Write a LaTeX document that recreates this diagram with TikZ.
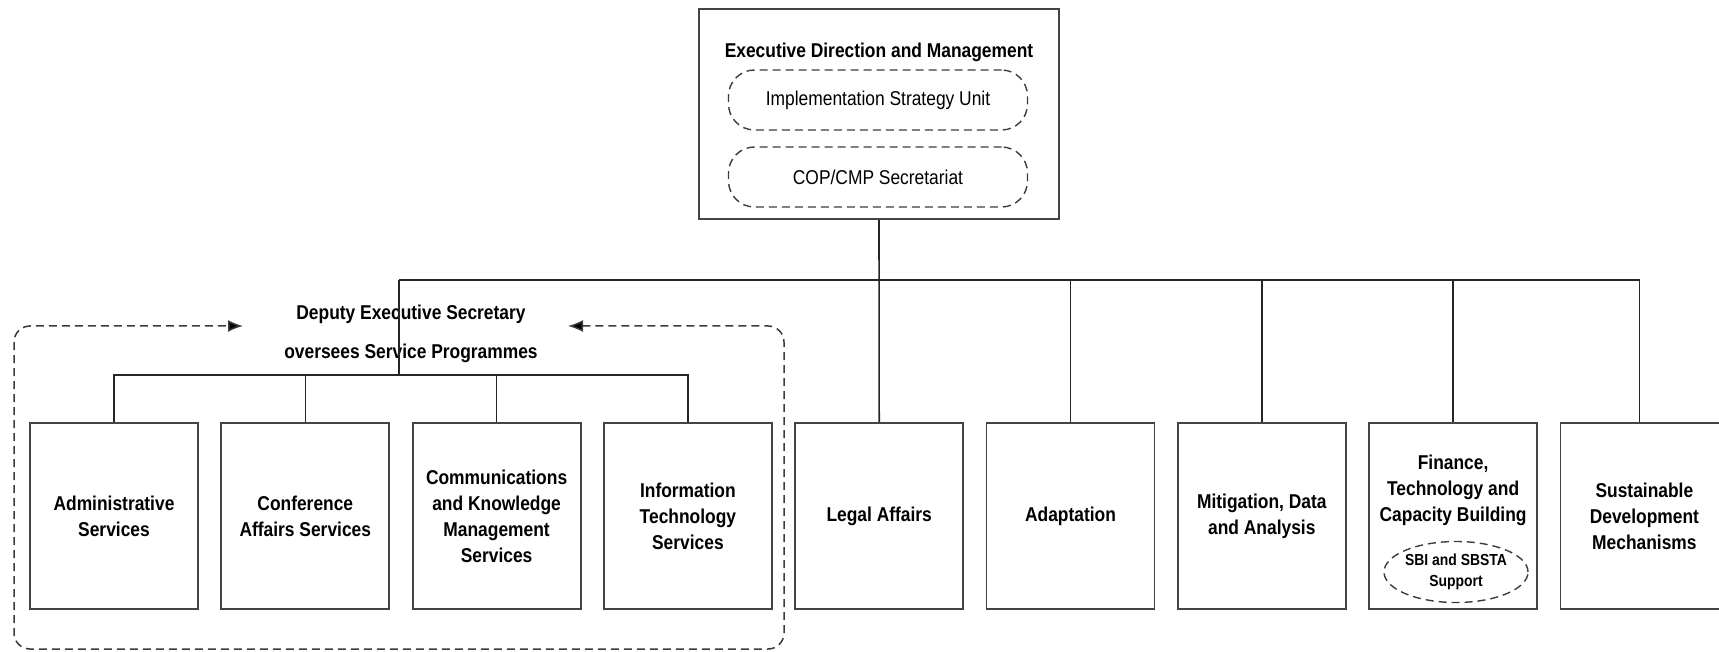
\documentclass[tikz,border=0pt]{standalone}
\usepackage{fontspec}
\setmainfont{Liberation Sans}[FakeStretch=0.87]
\usetikzlibrary{shapes.geometric,arrows.meta}
\definecolor{boxgray}{HTML}{444444}
\definecolor{dashgray}{HTML}{3C3C3C}
\begin{document}
\begin{tikzpicture}[x=1pt,y=-1pt,
  unitbox/.style={draw=boxgray, line width=1.8pt, minimum width=168pt, minimum height=186pt, inner sep=0pt, align=center, font=\fontsize{20}{26}\selectfont\bfseries},
  topbox/.style={draw=boxgray, line width=1.8pt, minimum width=360pt, minimum height=210pt, inner sep=0pt},
  pill/.style={draw=dashgray, dash pattern=on 8pt off 5pt, line width=1.4pt, rounded corners=26pt, minimum width=299pt, minimum height=60pt, inner sep=0pt, font=\fontsize{20}{26}\selectfont},
  oval/.style={ellipse, draw=dashgray, dash pattern=on 8pt off 5pt, line width=1.4pt, minimum width=128pt, minimum height=61pt, inner sep=0pt, align=center, font=\fontsize{16}{21}\selectfont\bfseries},
  boldtext/.style={align=center, inner sep=0pt, font=\fontsize{20}{26}\selectfont\bfseries},
  conn/.style={draw=black!85, line width=1.6pt},
  group/.style={draw=dashgray, dash pattern=on 8pt off 5pt, line width=1.5pt, rounded corners=16pt, {Latex[length=15pt,width=12pt,fill=black]}-{Latex[length=15pt,width=12pt,fill=black]}}
]
\useasboundingbox (0,0) rectangle (1719,652);

% top box
\node[topbox] (top) at (879,114) {};
\node[boldtext] (toptitle) at (879,52) {Executive Direction and Management};
\node[pill] (isu) at (878,100) {Implementation Strategy Unit};
\node[pill] (cop) at (878,177) {COP/CMP Secretariat};

% bottom boxes
\node[unitbox] (admin) at (114,516) {Administrative\\Services};
\node[unitbox] (conf) at (305.3,516) {Conference\\Affairs Services};
\node[unitbox] (comm) at (496.6,516) {Communications\\and Knowledge\\Management\\Services};
\node[unitbox] (it) at (687.9,516) {Information\\Technology\\Services};
\node[unitbox] (legal) at (879.2,516) {Legal Affairs};
\node[unitbox] (adapt) at (1070.5,516) {Adaptation};
\node[unitbox] (mit) at (1261.8,516) {Mitigation, Data\\and Analysis};
\node[unitbox] (fin) at (1453.1,516) {};
\node[boldtext] (fintext) at (1453.1,490) {Finance,\\Technology and\\Capacity Building};
\node[oval] (sbi) at (1456,572) {SBI and SBSTA\\Support};
\node[unitbox] (sdm) at (1644.4,516) {Sustainable\\Development\\Mechanisms};

% deputy
\node[boldtext] (dep) at (411,334) {Deputy Executive Secretary\\[13pt]oversees Service Programmes};

% connectors
\coordinate (busL) at (399,280);
\coordinate (sub) at (399,375);
\draw[conn] (top.south) -- (legal.north);
\draw[conn] (busL) -- ([xshift=-5pt]sdm.north |- busL) -- ([xshift=-5pt]sdm.north);
\draw[conn] (adapt.north |- busL) -- (adapt.north);
\draw[conn] (mit.north |- busL) -- (mit.north);
\draw[conn] (fin.north |- busL) -- (fin.north);
\draw[conn] (busL) -- (sub);
\draw[conn] (admin.north) -- (admin.north |- sub) -- (it.north |- sub) -- (it.north);
\draw[conn] (conf.north |- sub) -- (conf.north);
\draw[conn] (comm.north |- sub) -- (comm.north);

% dashed group outline with arrows
\coordinate (gR) at (568,326);
\coordinate (gL) at (243,326);
\draw[group] (gR) -- (784,326) -- (784,649) -- (14,649) -- (14,326) -- (gL);
\end{tikzpicture}
\end{document}
